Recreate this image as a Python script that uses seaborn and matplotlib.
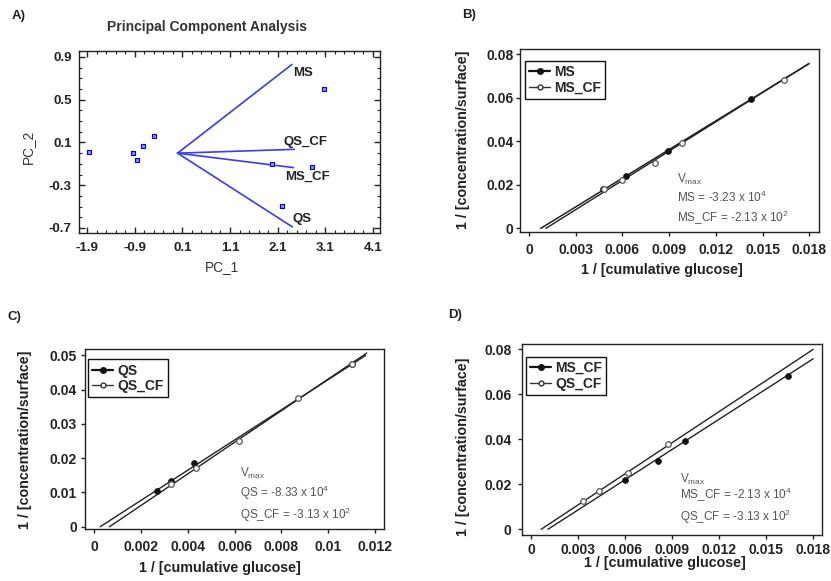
import numpy as np
import pandas as pd
import matplotlib
matplotlib.use('Agg')
import matplotlib.pyplot as plt
from matplotlib.lines import Line2D
from matplotlib.ticker import FixedLocator, MultipleLocator, FuncFormatter
import seaborn as sns

#----------------- data --------------------------------------

# A) PCA scores and loadings
pc1_scores = [-1.85, -0.94, -0.86, -0.73, -0.50, 1.99, 2.20, 2.83, 3.07]
pc2_scores = [0.014, 0.002, -0.06, 0.07, 0.16, -0.10, -0.49, -0.126, 0.60]
load_names = ['MS', 'QS_CF', 'MS_CF', 'QS']
load_pc1 = [2.40, 2.45, 2.43, 2.41]
load_pc2 = [0.83, 0.036, -0.135, -0.69]
label_pc1 = [2.42, 2.23, 2.25, 2.41]
label_pc2 = [0.753, 0.108, -0.225, -0.618]

# Lineweaver-Burk points (1/glucose, 1/(conc/surface))
ms_x = [0.00473, 0.00621, 0.00891, 0.01426]
ms_y = [0.0180, 0.0241, 0.0355, 0.0592]
ms_cf_x = [0.0048, 0.00599, 0.00807, 0.00981, 0.0164]
ms_cf_y = [0.0180, 0.0220, 0.0302, 0.0391, 0.0681]
qs_x = [0.00269, 0.00328, 0.00427, 0.0110]
qs_y = [0.0103, 0.0133, 0.0187, 0.0476]
qs_cf_x = [0.00329, 0.00435, 0.00618, 0.00872, 0.0110]
qs_cf_y = [0.0124, 0.0170, 0.0249, 0.0377, 0.0476]

# fitted lines: [slope, x where line meets 0]
ms_fit = [4.388, 0.00075]
ms_cf_fit = [4.48, 0.00108]
qs_fit = [4.405, 0.00025]
qs_cf_fit = [4.61, 0.00065]

vmax_b = ['MS = -3.23 x 10$^{\\mathregular{4}}$', 'MS_CF = -2.13 x 10$^{\\mathregular{2}}$']
vmax_c = ['QS = -8.33 x 10$^{\\mathregular{4}}$', 'QS_CF = -3.13 x 10$^{\\mathregular{2}}$']
vmax_d = ['MS_CF = -2.13 x 10$^{\\mathregular{4}}$', 'QS_CF = -3.13 x 10$^{\\mathregular{2}}$']

#----------------- style ------------------
sns.set_style('white')
plt.rcParams['font.family'] = ['Liberation Sans', 'DejaVu Sans']
plt.rcParams['font.weight'] = 'bold'
plt.rcParams['axes.labelweight'] = 'bold'
plt.rcParams['mathtext.fontset'] = 'custom'
plt.rcParams['mathtext.rm'] = 'Liberation Sans'

W, H = 831, 581
fig = plt.figure(figsize=(W / 100, H / 100), dpi=100)


def px_axes(l, t, r, b):
	return fig.add_axes([l / W, 1 - b / H, (r - l) / W, (b - t) / H])


def fmt_g(v, pos):
	return '%g' % round(v, 6)


def fit_line(ax, fit, x_end, lw=1.0):
	xs = np.array([fit[1], x_end])
	d = pd.DataFrame({'x': xs, 'y': fit[0] * (xs - fit[1])})
	sns.lineplot(data=d, x='x', y='y', ax=ax, color='#222222', lw=lw, legend=False)


def kinetics_panel(ax, xticks, yticks, xlim, ylim, xpad, ypad):
	ax.set_xlim(xlim)
	ax.set_ylim(ylim)
	ax.xaxis.set_major_locator(FixedLocator(xticks))
	ax.yaxis.set_major_locator(FixedLocator(yticks))
	ax.xaxis.set_major_formatter(FuncFormatter(fmt_g))
	ax.yaxis.set_major_formatter(FuncFormatter(fmt_g))
	ax.tick_params(direction='out', length=2.8, width=1, labelsize=10, colors='#222222', bottom=True, left=True)
	ax.tick_params(axis='x', pad=xpad)
	ax.tick_params(axis='y', pad=ypad)
	for s in ax.spines.values():
		s.set_color('#222222')
		s.set_linewidth(1)
	ax.set_xlabel('1 / [cumulative glucose]', fontsize=10.3, color='#222222')
	ax.set_ylabel('1 / [concentration/surface]', fontsize=10.3, color='#222222')
	ax.xaxis.label.set_va('center')
	ax.yaxis.label.set_va('center')


def points(ax, x, y, filled):
	if filled:
		sns.scatterplot(x=x, y=y, ax=ax, color='#111111', s=18, edgecolor='#111111', linewidth=0.5, zorder=3)
	else:
		sns.scatterplot(x=x, y=y, ax=ax, facecolor='white', s=16, edgecolor='#555555', linewidth=0.9, zorder=3)


def legend(ax, names, anchor):
	h = [Line2D([], [], color='#111111', lw=1.6, marker='o', ms=4, mfc='#111111', mec='#111111'),
		Line2D([], [], color='#333333', lw=1.0, marker='o', ms=3.5, mfc='white', mec='#333333')]
	lg = ax.legend(h, names, loc='upper left', bbox_to_anchor=anchor, borderaxespad=0, fancybox=False,
		edgecolor='#111111', framealpha=1, fontsize=10, handlelength=1.5, handletextpad=0.3,
		borderpad=0.3, labelspacing=0.12)
	lg.get_frame().set_linewidth(1)


def vmax_text(ax, x, ys, lines):
	kw = dict(transform=ax.transAxes, fontsize=8.5, color='#555555', fontweight='normal', va='center', ha='left')
	ax.text(x, ys[0], 'V$_{\\mathregular{max}}$', **kw)
	ax.text(x, ys[1], lines[0], **kw)
	ax.text(x, ys[2], lines[1], **kw)


#----------------- A) PCA ------------------
axA = px_axes(79, 51, 380, 233)
for px, py in zip(load_pc1, load_pc2):
	axA.plot([0, px], [0, py], color='#3b3bf0', lw=1.2)
sns.scatterplot(x=pc1_scores, y=pc2_scores, ax=axA, marker='s', s=9, facecolor='#9090ff',
	edgecolor='#0000ee', linewidth=0.8, zorder=3)
for name, lx, ly in zip(load_names, label_pc1, label_pc2):
	axA.text(lx, ly, name, fontsize=9.5, color='#222222', va='center', ha='left')
axA.set_xlim(-2.07, 4.25)
axA.set_ylim(-0.747, 0.956)
axA.xaxis.set_major_locator(FixedLocator([-1.9, -0.9, 0.1, 1.1, 2.1, 3.1, 4.1]))
axA.yaxis.set_major_locator(FixedLocator([-0.7, -0.3, 0.1, 0.5, 0.9]))
axA.xaxis.set_minor_locator(MultipleLocator(0.2, offset=0.1))
axA.yaxis.set_minor_locator(MultipleLocator(0.1))
axA.xaxis.set_major_formatter(FuncFormatter(lambda v, p: '%.1f' % v))
axA.yaxis.set_major_formatter(FuncFormatter(lambda v, p: '%.1f' % v))
axA.tick_params(which='both', direction='in', top=True, right=True, bottom=True, left=True,
	colors='#222222', labelsize=9.5)
axA.tick_params(which='major', length=4, width=1)
axA.tick_params(which='minor', length=2.5, width=0.8)
axA.tick_params(axis='x', pad=6.3)
axA.tick_params(axis='y', pad=5.3)
for s in axA.spines.values():
	s.set_color('#222222')
	s.set_linewidth(1)
axA.set_xlabel('PC_1', fontsize=9.8, fontweight='normal', color='#333333')
axA.set_ylabel('PC_2', fontsize=9.8, fontweight='normal', color='#333333')
axA.xaxis.label.set_va('center')
axA.yaxis.label.set_va('center')
axA.xaxis.set_label_coords(0.475, -0.187)
axA.yaxis.set_label_coords(-0.169, 0.473)
fig.text(207 / W, 1 - 27 / H, 'Principal Component Analysis', fontsize=10, color='#333333', ha='center', va='center')

#----------------- B) MS vs MS_CF ------------------
axB = px_axes(520, 49.3, 819, 232.3)
fit_line(axB, ms_fit, 0.018, lw=1.1)
fit_line(axB, ms_cf_fit, 0.0179, lw=1.0)
points(axB, ms_x, ms_y, True)
points(axB, ms_cf_x, ms_cf_y, False)
kinetics_panel(axB, np.arange(0, 0.0181, 0.003), np.arange(0, 0.081, 0.02), (-0.00058, 0.01862), (-0.0018, 0.0822), 4.8, 1.7)
axB.xaxis.set_label_coords(0.475, -0.206)
axB.yaxis.set_label_coords(-0.191, 0.504)
legend(axB, ['MS', 'MS_CF'], (0.0167, 0.936))
vmax_text(axB, 0.524, [0.291, 0.191, 0.0765], vmax_b)

#----------------- C) QS vs QS_CF ------------------
axC = px_axes(85, 349.3, 384.3, 529.3)
fit_line(axC, qs_fit, 0.0116)
fit_line(axC, qs_cf_fit, 0.01165)
points(axC, qs_x, qs_y, True)
points(axC, qs_cf_x, qs_cf_y, False)
kinetics_panel(axC, np.arange(0, 0.0121, 0.002), np.arange(0, 0.051, 0.01), (-0.0004, 0.0124), (-0.00076, 0.0518), 5.0, 2.9)
axC.xaxis.set_label_coords(0.451, -0.217)
axC.yaxis.set_label_coords(-0.2, 0.496)
legend(axC, ['QS', 'QS_CF'], (0.011, 0.944))
vmax_text(axC, 0.518, [0.311, 0.2, 0.079], vmax_c)

#----------------- D) MS_CF vs QS_CF ------------------
axD = px_axes(521.7, 344, 821.7, 535)
fit_line(axD, qs_cf_fit, 0.018)
fit_line(axD, ms_cf_fit, 0.018)
points(axD, ms_cf_x[1:], ms_cf_y[1:], True)
points(axD, qs_cf_x[:4], qs_cf_y[:4], False)
kinetics_panel(axD, np.arange(0, 0.0181, 0.003), np.arange(0, 0.081, 0.02), (-0.00059, 0.01854), (-0.00253, 0.08236), 3.1, 4.5)
axD.xaxis.set_label_coords(0.478, -0.147)
axD.yaxis.set_label_coords(-0.196, 0.462)
legend(axD, ['MS_CF', 'QS_CF'], (0.0143, 0.9335))
vmax_text(axD, 0.528, [0.292, 0.209, 0.096], vmax_d)

#----------------- panel letters ------------------
for lbl, lx, ly in [('A)', 12, 16), ('B)', 462, 15), ('C)', 8, 317), ('D)', 448, 315)]:
	fig.text(lx / W, 1 - ly / H, lbl, fontsize=9.5, color='#222222', ha='left', va='center')

fig.savefig('out.png', dpi=100)
